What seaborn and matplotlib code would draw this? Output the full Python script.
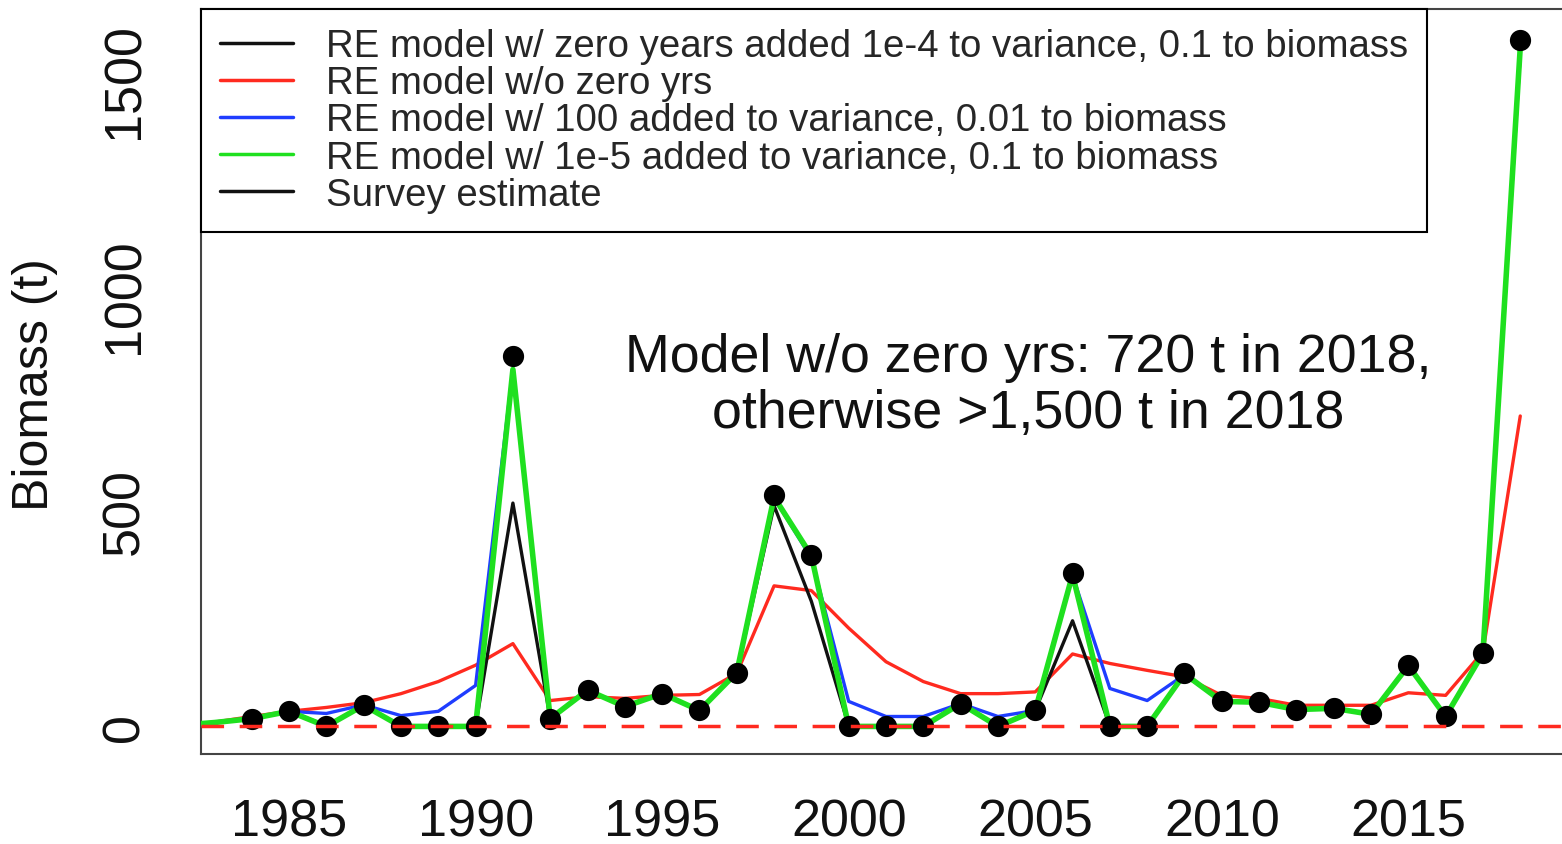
import numpy as np
import pandas as pd
import matplotlib
matplotlib.use("Agg")
import matplotlib.pyplot as plt
from matplotlib.lines import Line2D
import seaborn as sns

# ---------------- data ----------------
survey_years = list(range(1984, 2019))
survey = [18, 35, 0, 50, 0, 0, 0, 859, 18, 85, 46, 76, 37, 125, 537, 398,
          0, 0, 0, 53, 0, 37, 356, 0, 0, 123, 58, 56, 39, 42, 28, 143, 23, 171, 1593]

model_years = list(range(1982, 2019))
# RE model w/ zero years added 1e-4 to variance, 0.1 to biomass
model_black = [2, 9, 18, 35, 2, 48, 1, 1, 1, 518, 18, 83, 47, 75, 38, 124, 512, 290,
               1, 1, 1, 52, 1, 37, 245, 1, 1, 121, 58, 55, 40, 41, 29, 140, 24, 169, 1560]
# RE model w/o zero yrs
model_red = [3, 10, 23, 35, 44, 55, 76, 104, 142, 192, 60, 69, 65, 72, 74, 123, 326, 315,
             228, 150, 104, 76, 76, 80, 168, 146, 130, 115, 72, 65, 49, 49, 49, 78, 72, 173, 720]
# RE model w/ 100 added to variance, 0.01 to biomass
model_blue = [2, 9, 20, 35, 30, 50, 25, 35, 95, 830, 18, 83, 47, 75, 38, 124, 530, 390,
              58, 23, 23, 53, 23, 37, 350, 88, 60, 120, 58, 55, 40, 41, 30, 140, 25, 169, 1570]
# RE model w/ 1e-5 added to variance, 0.1 to biomass
model_green = [2, 9, 18, 35, 0, 49, 0, 0, 0, 828, 18, 84, 46, 76, 37, 125, 532, 396,
               0, 0, 0, 53, 0, 37, 352, 0, 0, 122, 58, 56, 39, 42, 28, 141, 23, 170, 1575]

legend_labels = [
    "RE model w/ zero years added 1e-4 to variance, 0.1 to biomass",
    "RE model w/o zero yrs",
    "RE model w/ 100 added to variance, 0.01 to biomass",
    "RE model w/ 1e-5 added to variance, 0.1 to biomass",
    "Survey estimate",
]
x_ticks = [1985, 1990, 1995, 2000, 2005, 2010, 2015]
y_ticks = [0, 500, 1000, 1500]
annotation = "Model w/o zero yrs: 720 t in 2018,\notherwise >1,500 t in 2018"

# ---------------- style ----------------
sns.set_style("white")
plt.rcParams['font.family'] = ['Liberation Sans', 'DejaVu Sans']

C_BLACK = "#111111"
C_RED = "#ff2a1f"
C_BLUE = "#1f3dff"
C_GREEN = "#1fe01f"
C_AXIS = "#444444"

W, H = 1562, 845
fig = plt.figure(figsize=(W / 100, H / 100), dpi=100)
ax = fig.add_axes([201 / W, 90 / H, (1571 - 201) / W, (755 - 10) / H])

models = pd.DataFrame({
    "year": model_years,
    "black": model_black,
    "red": model_red,
    "blue": model_blue,
    "green": model_green,
})
surv = pd.DataFrame({"year": survey_years, "biomass": survey})

sns.lineplot(data=models, x="year", y="black", color=C_BLACK, lw=2.4, ax=ax,
             estimator=None, sort=False, legend=False, zorder=2.2)
sns.lineplot(data=models, x="year", y="red", color=C_RED, lw=2.4, ax=ax,
             estimator=None, sort=False, legend=False, zorder=2.1)
sns.lineplot(data=models, x="year", y="blue", color=C_BLUE, lw=2.4, ax=ax,
             estimator=None, sort=False, legend=False, zorder=2.5)
sns.lineplot(data=models, x="year", y="green", color=C_GREEN, lw=4.0, ax=ax,
             estimator=None, sort=False, legend=False, zorder=2.8)
sns.scatterplot(data=surv, x="year", y="biomass", color="black", edgecolor="black",
                s=200, ax=ax, zorder=5, legend=False)
ax.axhline(0, color=C_RED, lw=2.5, ls=(0, (6.5, 4.5)), zorder=6)

ax.set_xlim(1982.64, 2019.36)
ax.set_ylim(-64, 1664)
ax.set_xticks(x_ticks)
ax.set_xticklabels([str(t) for t in x_ticks])
ax.set_yticks(y_ticks)
ax.set_yticklabels([str(t) for t in y_ticks], rotation=90, va="center")
ax.tick_params(axis="both", length=17, width=1.5, color=C_AXIS, labelsize=37.5,
               labelcolor="#111111", direction="out")
ax.tick_params(axis="x", pad=14)
ax.tick_params(axis="y", pad=20)
ax.set_xlabel("")
ax.set_ylabel("Biomass (t)", fontsize=36, color="#111111")
ax.yaxis.label.set(va="center", ha="center")
ax.yaxis.set_label_coords((35 - 201) / 1370, (755 - 385) / 745)

for s in ax.spines.values():
    s.set_color(C_AXIS)
    s.set_linewidth(1.5)
    s.set_visible(True)

ax.text(2004.8, 792, annotation, fontsize=38.7, ha="center", va="center",
        linespacing=1.15, color="#111111")

handles = [Line2D([], [], color=c, lw=2.5) for c in [C_BLACK, C_RED, C_BLUE, C_GREEN, C_BLACK]]
leg = ax.legend(handles, legend_labels, loc="upper left", bbox_to_anchor=(0, 1),
                borderaxespad=0, fontsize=27.6, frameon=True, fancybox=False,
                framealpha=1, edgecolor="black", labelspacing=0.03,
                handlelength=1.9, handletextpad=0.86, borderpad=0.5)
leg.get_frame().set_linewidth(1.5)
leg.set_zorder(10)

fig.savefig("out.png", dpi=100)
